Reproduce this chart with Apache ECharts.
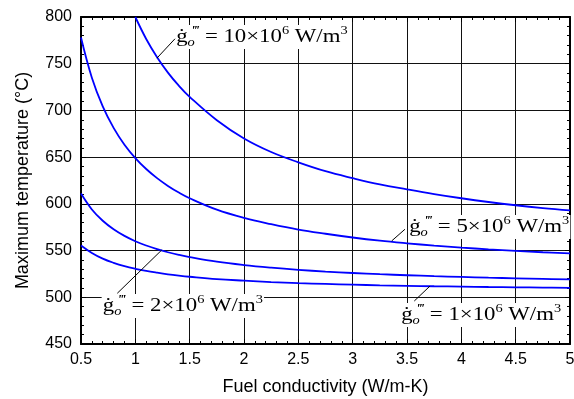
<!DOCTYPE html>
<html>
<head>
<meta charset="utf-8">
<script src="https://cdn.jsdelivr.net/npm/echarts@6/dist/echarts.min.js"></script>
<style>
  html, body { margin: 0; padding: 0; background: #fff; }
  #chart { width: 574px; height: 399px; }
</style>
</head>
<body>
<div id="chart"></div>
<script>
// fuel conductivity (W/m-K)
const conductivity = [0.5, 0.6, 0.7, 0.8, 0.9, 1, 1.1, 1.2, 1.3, 1.4, 1.5, 1.75, 2, 2.25, 2.5, 2.75, 3, 3.25, 3.5, 3.75, 4, 4.25, 4.5, 4.75, 5]

// maximum temperature (°C), one array per heat generation rate
const gen1 = [555.5, 547.5, 541.4, 536.9, 533.3, 530.5, 528.2, 526.3, 524.6, 523.2, 522, 519.5, 517.8, 516.3, 515.2, 514.3, 513.5, 512.8, 512.3, 511.8, 511.4, 511, 510.7, 510.4, 510.1]
const gen2 = [611, 594, 581.9, 572.8, 565.7, 560, 555.4, 551.5, 548.2, 545.4, 543, 538.1, 534.5, 531.7, 529.4, 527.5, 526, 524.7, 523.6, 522.6, 521.8, 521, 520.3, 519.7, 519.2]
const gen5 = [778, 735, 704.3, 681.3, 663.3, 649, 637.3, 627.5, 619.2, 612.1, 606, 593.8, 585, 578.3, 572.5, 568, 564, 560.6, 557.8, 555.3, 553.2, 551.3, 549.7, 548.2, 547]
const gen10 = [null, null, null, null, null, 800, 776.5, 757, 740.5, 726.5, 714.5, 689.5, 670, 655.5, 644.5, 635, 627.5, 620.8, 615.5, 610.5, 606, 602, 598.5, 595.5, 593]

const genLabels = ['1', '2', '5', '10']

// label anchor (left-middle) and leader line, in data units
const labelAnchors = [[3.435, 481], [0.69, 490.7], [3.509, 575.3], [1.365, 778.7]]
const leaders = [
  [[3.712, 512.1], [3.567, 496]],
  [[1.243, 550.6], [0.834, 504.3]],
  [[3.359, 560.3], [3.481, 572.8]],
  [[1.199, 756], [1.365, 776.7]]
]

const chart = echarts.init(document.getElementById('chart'))

const SANS = 'Liberation Sans, Arial, sans-serif'
const SERIF = 'Liberation Serif, Times New Roman, serif'

const toPairs = (ys) => conductivity.map((x, i) => [x, ys[i]]).filter((p) => p[1] != null)

const boxAxis = {
  axisLine: { lineStyle: { color: '#000', width: 2 } },
  axisTick: { inside: true, length: 5, lineStyle: { color: '#000' } },
  minorTick: { show: true, splitNumber: 5, length: 3, lineStyle: { color: '#000' } }
}

chart.setOption({
  animation: false,
  backgroundColor: '#fff',
  grid: { left: 81, right: 4, top: 17, bottom: 55, outerBoundsMode: 'none' },
  xAxis: [
    {
      type: 'value', min: 0.5, max: 5, interval: 0.5,
      ...boxAxis,
      splitLine: { show: true, lineStyle: { color: '#111', width: 1 } },
      axisLabel: { color: '#000', fontSize: 16, fontFamily: SANS, margin: 8 },
      name: 'Fuel conductivity (W/m-K)',
      nameLocation: 'middle',
      nameGap: 34,
      nameTextStyle: { color: '#000', fontSize: 18, fontFamily: SANS }
    },
    {
      type: 'value', min: 0.5, max: 5, interval: 0.5, position: 'top',
      ...boxAxis,
      splitLine: { show: false },
      axisLabel: { show: false }
    }
  ],
  yAxis: [
    {
      type: 'value', min: 450, max: 800, interval: 50,
      ...boxAxis,
      splitLine: { show: true, lineStyle: { color: '#111', width: 1 } },
      axisLabel: { color: '#000', fontSize: 16, fontFamily: SANS, margin: 9 },
      name: 'Maximum temperature (°C)',
      nameLocation: 'middle',
      nameGap: 49,
      nameTextStyle: { color: '#000', fontSize: 18, fontFamily: SANS }
    },
    {
      type: 'value', min: 450, max: 800, interval: 50, position: 'right',
      ...boxAxis,
      splitLine: { show: false },
      axisLabel: { show: false }
    }
  ],
  series: [gen1, gen2, gen5, gen10].map((ys, i) => ({
    name: genLabels[i],
    type: 'line',
    smooth: 0.4,
    showSymbol: false,
    lineStyle: { color: '#0000ff', width: 1.8 },
    data: toPairs(ys),
    markLine: {
      silent: true,
      symbol: 'none',
      label: { show: false },
      lineStyle: { color: '#000', width: 1, type: 'solid' },
      data: [[{ coord: leaders[i][0] }, { coord: leaders[i][1] }]]
    }
  }))
})

// q''' labels, placed from data coordinates
const rich = {
  g: { fontFamily: SERIF, fontSize: 19, lineHeight: 24, fill: '#000' },
  o: { fontFamily: SERIF, fontSize: 12, fontStyle: 'italic', verticalAlign: 'bottom', width: 3, fill: '#000' },
  p: { fontFamily: SERIF, fontSize: 12, fontStyle: 'italic', fontWeight: 'bold', verticalAlign: 'top', fill: '#000' },
  t: { fontFamily: SERIF, fontSize: 19, lineHeight: 24, fill: '#000' },
  s: { fontFamily: SERIF, fontSize: 12, verticalAlign: 'top', fill: '#000' }
}

chart.setOption({
  graphic: genLabels.map((g, i) => {
    const pos = chart.convertToPixel({ gridIndex: 0 }, labelAnchors[i])
    return {
      type: 'text',
      x: pos[0],
      y: pos[1],
      scaleX: 1.2,
      z: 3,
      style: {
        text: `{g|ġ}{o|o}{p|‴}{t| = ${g}×10}{s|6}{t| W/m}{s|3}`,
        rich,
        align: 'left',
        verticalAlign: 'middle',
        backgroundColor: '#fff',
        padding: [0, 1]
      }
    }
  })
})
</script>
</body>
</html>
